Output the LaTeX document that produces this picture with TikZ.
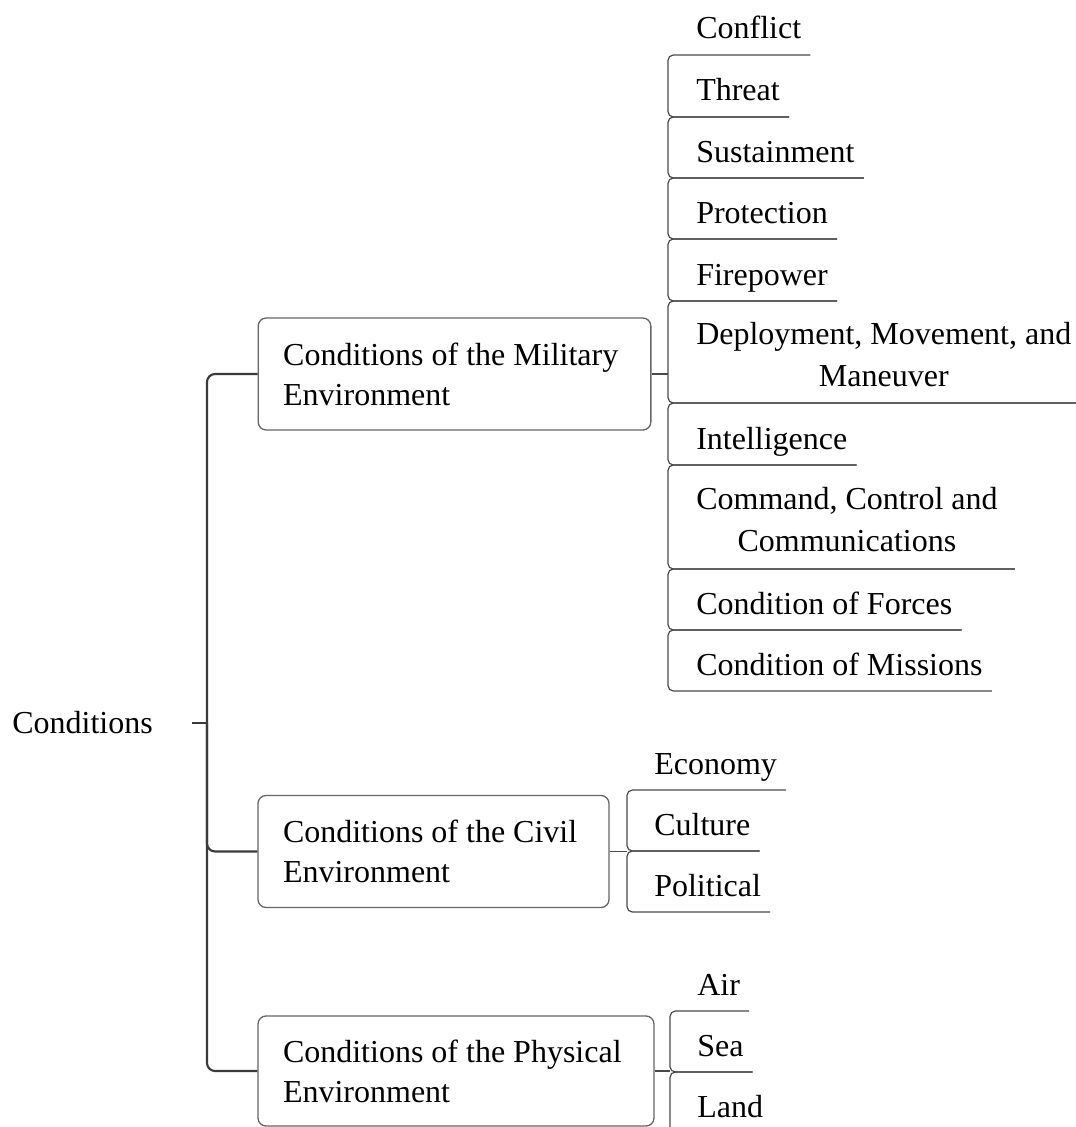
\documentclass[tikz,border=0pt]{standalone}
\usepackage{fontspec}
\setmainfont{Liberation Serif}
\usepackage{tikz}
\usetikzlibrary{positioning,calc}
\usepackage{xcolor}
\definecolor{boxline}{HTML}{666666}
\definecolor{trunkline}{HTML}{3A3A3A}
\definecolor{twigline}{HTML}{4A4A4A}

\begin{document}
\begin{tikzpicture}[
  x=0.75pt,y=-0.75pt,
  area/.style={rounded corners=6pt,draw=boxline,line width=1pt,
               align=flush left,inner xsep=18.75pt,inner ysep=0pt,minimum height=84pt,
               font=\fontsize{24}{30}\selectfont},
  leaf/.style={anchor=base west,inner xsep=6.75pt,inner ysep=0pt,
               font=\fontsize{24}{31.5}\selectfont},
  leafii/.style={anchor=west,align=center,inner xsep=6.75pt,inner ysep=0pt,
               font=\fontsize{24}{31.5}\selectfont},
  trunk/.style={trunkline,line width=1.6pt,rounded corners=6pt},
  twig/.style={twigline,line width=0.9pt,rounded corners=4pt}
]
  \useasboundingbox (0,0) rectangle (1075,1127);

  % root
  \node[anchor=base west,inner sep=0pt,font=\fontsize{24}{30}\selectfont](cond) at (12,733){Conditions};
  \coordinate (stub) at (192,723);
  \coordinate (hub) at (207,723);

  % three environments
  \node[area,text width=257pt](mil) at (454.5,374){\mbox{Conditions of the Military}\\Environment};
  \node[area,text width=225.75pt](civ) at (433.5,851.5){\mbox{Conditions of the Civil}\\Environment};
  \node[area,text width=259.5pt,minimum height=82.5pt](phy) at (456,1071){\mbox{Conditions of the Physical}\\Environment};

  \draw[trunk](stub)--(hub);
  \draw[trunk](mil.west)-|(hub)|-(phy.west);
  \draw[trunk](hub)|-(civ.west);

  % military leaves
  \coordinate (brM) at (668,374);
  \node[leaf](con) at (687,39){Conflict};
  \node[leaf](thr) at (687,101){Threat};
  \node[leaf](sus) at (687,162){Sustainment};
  \node[leaf](pro) at (687,223){Protection};
  \node[leaf](fir) at (687,285){Firepower};
  \node[leafii](dmm) at (687,354.5){Deployment, Movement, and\\Maneuver};
  \node[leaf](int) at (687,449){Intelligence};
  \node[leafii](ccc) at (687,519.5){Command, Control and\\Communications};
  \node[leaf](frc) at (687,614){Condition of Forces};
  \node[leaf](msn) at (687,675){Condition of Missions};

  \draw[twig](mil.east)--(brM);
  \draw[twig](con.east|-0,55)-|(668,117)--(thr.east|-0,117);
  \draw[twig](thr.east|-0,117)-|(668,178)--(sus.east|-0,178);
  \draw[twig](sus.east|-0,178)-|(668,239)--(pro.east|-0,239);
  \draw[twig](pro.east|-0,239)-|(668,301)--(fir.east|-0,301);
  \draw[twig](fir.east|-0,301)-|(668,403)--(dmm.east|-0,403);
  \draw[twig](dmm.east|-0,403)-|(668,465)--(int.east|-0,465);
  \draw[twig](int.east|-0,465)-|(668,569)--([xshift=6pt]ccc.east|-0,569);
  \draw[twig]([xshift=6pt]ccc.east|-0,569)-|(668,630)--(frc.east|-0,630);
  \draw[twig](frc.east|-0,630)-|(668,691)--(msn.east|-0,691);

  % civil leaves
  \coordinate (brC) at (627,851.5);
  \node[leaf](eco) at (645,774){Economy};
  \node[leaf](cul) at (645,835){Culture};
  \node[leaf](pol) at (645,896){Political};

  \draw[twig](civ.east)--(brC);
  \draw[twig](eco.east|-0,790)-|(627,851)--(cul.east|-0,851);
  \draw[twig](cul.east|-0,851)-|(627,912)--(pol.east|-0,912);

  % physical leaves
  \coordinate (brP) at (670,1071);
  \node[leaf](air) at (688,995){Air};
  \node[leaf](sea) at (688,1056){Sea};
  \node[leaf](lnd) at (688,1117){Land};

  \draw[twig](phy.east)--(brP);
  \draw[twig](air.east|-0,1011)-|(670,1072)--(sea.east|-0,1072);
  \draw[twig](sea.east|-0,1072)-|(670,1133)--(lnd.east|-0,1133);
\end{tikzpicture}
\end{document}
